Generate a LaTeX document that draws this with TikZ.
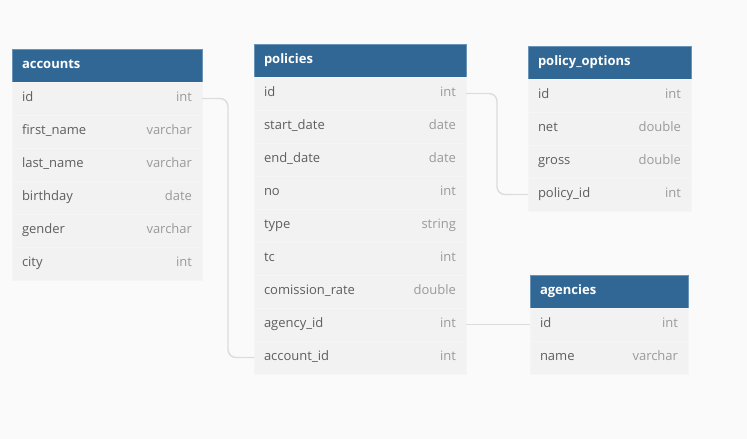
\documentclass[tikz,border=0pt]{standalone}
\usepackage{fontspec}
\setmainfont{Open Sans}
\usetikzlibrary{positioning}
\definecolor{bgcol}{HTML}{FAFAFA}
\definecolor{hdblue}{HTML}{316795}
\definecolor{hdline}{HTML}{6A93B8}
\definecolor{rowgray}{HTML}{F2F2F2}
\definecolor{rowline}{HTML}{F5F5F5}
\definecolor{namegray}{HTML}{5E5E5E}
\definecolor{typegray}{HTML}{9A9A9A}
\definecolor{linkgray}{HTML}{DCDCDC}
\newcommand{\ty}[1]{\hfill{\color{typegray}#1}}
\tikzset{>=latex,
  hd/.style={rectangle, draw=hdline, fill=hdblue, text=white, font=\fontsize{13}{15}\selectfont\bfseries, text width=#1, align=left, text height=9.5pt, text depth=3pt, minimum height=33pt, inner xsep=10pt, inner ysep=0pt, outer sep=0pt},
  rw/.style={rectangle, draw=rowline, fill=rowgray, text=namegray, font=\fontsize{13}{15}\selectfont, text width=#1, align=left, text height=9.5pt, text depth=3pt, minimum height=33pt, inner xsep=10pt, inner ysep=0pt, outer sep=0pt},
  link/.style={draw=linkgray, line width=1.4pt, rounded corners=8pt}}

\begin{document}
\begin{tikzpicture}[x=1pt, y=-1pt, node distance=33pt]
      \fill[bgcol] (0,0) rectangle (747,439);
      \useasboundingbox (0,0) rectangle (747,439);
      % accounts
      \node[hd=170pt] (a0) at (107,65.5) {accounts};
      \node[rw=170pt, below of=a0] (a1) {id\ty{int}};
      \node[rw=170pt, below of=a1] (a2) {first\_name\ty{varchar}};
      \node[rw=170pt, below of=a2] (a3) {last\_name\ty{varchar}};
      \node[rw=170pt, below of=a3] (a4) {birthday\ty{date}};
      \node[rw=170pt, below of=a4] (a5) {gender\ty{varchar}};
      \node[rw=170pt, below of=a5] (a6) {city\ty{int}};
      % policies
      \node[hd=192pt] (p0) at (360,60.5) {policies};
      \node[rw=192pt, below of=p0] (p1) {id\ty{int}};
      \node[rw=192pt, below of=p1] (p2) {start\_date\ty{date}};
      \node[rw=192pt, below of=p2] (p3) {end\_date\ty{date}};
      \node[rw=192pt, below of=p3] (p4) {no\ty{int}};
      \node[rw=192pt, below of=p4] (p5) {type\ty{string}};
      \node[rw=192pt, below of=p5] (p6) {tc\ty{int}};
      \node[rw=192pt, below of=p6] (p7) {comission\_rate\ty{double}};
      \node[rw=192pt, below of=p7] (p8) {agency\_id\ty{int}};
      \node[rw=192pt, below of=p8] (p9) {account\_id\ty{int}};
      % policy_options
      \node[hd=143pt] (o0) at (609.5,62.5) {policy\_options};
      \node[rw=143pt, below of=o0] (o1) {id\ty{int}};
      \node[rw=143pt, below of=o1] (o2) {net\ty{double}};
      \node[rw=143pt, below of=o2] (o3) {gross\ty{double}};
      \node[rw=143pt, below of=o3] (o4) {policy\_id\ty{int}};
      % agencies
      \node[hd=138pt] (g0) at (609,291.5) {agencies};
      \node[rw=138pt, below of=g0] (g1) {id\ty{int}};
      \node[rw=138pt, below of=g1] (g2) {name\ty{varchar}};
      % references
      \draw[link] (a1.east) -- ++(26,0) |- (p9.west);
      \draw[link] (p1.east) -- ++(31,0) |- (o4.west);
      \draw[link] (p8.east) -- (g1.west);
\end{tikzpicture}
\end{document}
